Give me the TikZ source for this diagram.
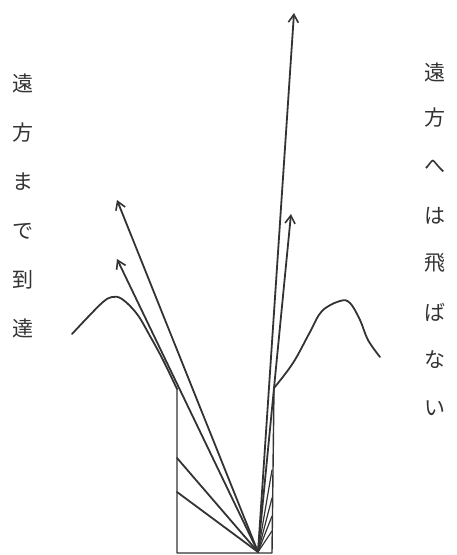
\documentclass[tikz,border=0pt]{standalone}
\usepackage{fontspec}
\newfontfamily\jp{Noto Sans CJK JP}
\usetikzlibrary{arrows.meta}
\definecolor{ink}{HTML}{333333}
\begin{document}
\begin{tikzpicture}[x=1pt,y=-1pt,
  pen/.style={draw=ink,line width=1.8pt,line cap=round,line join=round},
  ray/.style={pen,-{Straight Barb[length=8pt,width=10pt,line width=1.6pt]}},
  lbl/.style={text=ink,font=\jp\fontsize{21}{21}\selectfont,inner sep=0pt}]
\useasboundingbox (0,0) rectangle (457,555);

% focus at the bottom of the slot
\coordinate (F) at (258,552);
% slot walls and floor
\coordinate (LT) at (177,389);
\coordinate (LB) at (177,553);
\coordinate (RT) at (274,388);
\coordinate (RB) at (272,553);
\draw[pen,line width=1.4pt] (LT) -- (LB) -- (RB) -- (RT);

% left bump
\draw[pen] plot[smooth,tension=0.6] coordinates
  {(72,334) (88,317) (103,302) (112,297) (122,299) (137,314) (150,336) (163,360) (LT)};
% right bump
\draw[pen] plot[smooth,tension=0.6] coordinates
  {(RT) (293,363) (310,332) (322,311) (340,301) (350,303) (360,320) (368,340) (380,357)};

% rays that leave the slot
\coordinate (A1) at (294,13);
\coordinate (A2) at (291,214);
\coordinate (A3) at (117,200);
\coordinate (A4) at (117,259);
\draw[ray] (F) -- (A1);
\draw[ray] (F) -- (A2);
\draw[ray] (F) -- (A3);
\draw[ray] (F) -- (A4);

% rays that hit the walls
\coordinate (L1) at (177,458);
\coordinate (L2) at (177,492);
\draw[pen] (F) -- (L1);
\draw[pen] (F) -- (L2);
\foreach \y/\n in {470/R1,498/R2,516/R3,531/R4}{
  \coordinate (\n) at (272,\y);
  \draw[pen,line width=1.2pt] (F) -- (\n);
}

% left caption
\foreach \t/\y [count=\i] in {遠/83,方/133,ま/182,で/231,到/280,達/328}
  \node[lbl] (l\i) at (23,\y) {\t};
% right caption
\foreach \t/\y [count=\i] in {遠/72,方/118,へ/167,は/216,飛/263,ば/312,な/360,い/408}
  \node[lbl] (r\i) at (435,\y) {\t};
\end{tikzpicture}
\end{document}
